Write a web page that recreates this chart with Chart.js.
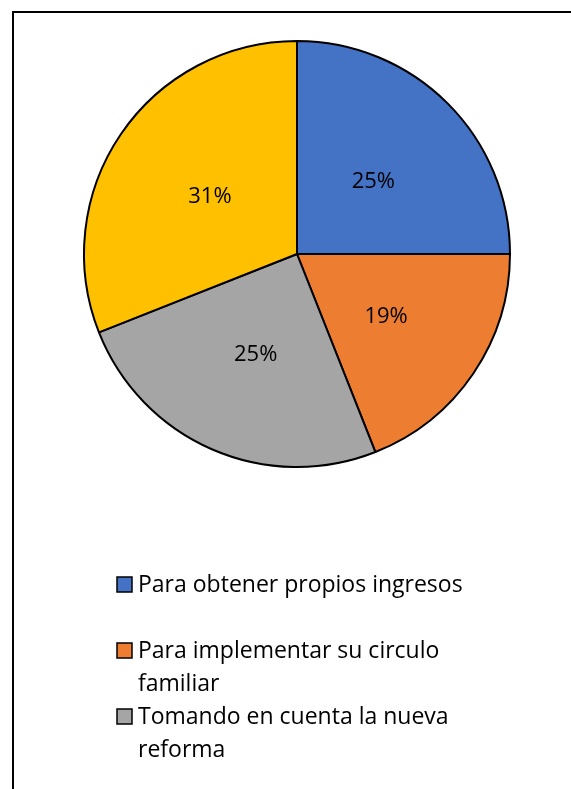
<!DOCTYPE html>
<html>
<head>
<meta charset="utf-8">
<script src="https://cdn.jsdelivr.net/npm/chart.js@4.4.1/dist/chart.umd.min.js"></script>
<style>
  html, body { margin: 0; padding: 0; background: #fff; overflow: hidden; }
  body { width: 571px; height: 789px; position: relative; }
  #frame { position: absolute; left: 12px; top: 11px; width: 700px; height: 900px; border: 2px solid #000; }
  #pie { position: absolute; left: 0; top: 0; }
</style>
</head>
<body>
<div id="frame"></div>
<canvas id="pie" width="594" height="789"></canvas>
<script>
// Chart data
const categories = [
  'Para obtener propios ingresos',
  'Para implementar su circulo familiar',
  'Tomando en cuenta la nueva reforma',
  'Otros'
];
const percentages = [25, 19, 25, 31];
const sliceColors = ['#4472C4', '#ED7D31', '#A5A5A5', '#FFC000'];
const legendShown = 3; // only three entries fit in the visible frame

const FONT = '"Open Sans", "Noto Sans", sans-serif';

// Percent labels in the middle of each slice
const sliceLabels = {
  id: 'sliceLabels',
  afterDatasetsDraw(chart) {
    const ctx = chart.ctx;
    const meta = chart.getDatasetMeta(0);
    ctx.save();
    ctx.font = '22px ' + FONT;
    ctx.fillStyle = '#000';
    ctx.textAlign = 'center';
    ctx.textBaseline = 'middle';
    meta.data.forEach((arc, i) => {
      const pos = arc.tooltipPosition();
      ctx.fillText(percentages[i] + '%', pos.x + 1, pos.y + 3);
    });
    ctx.restore();
  }
};

// Legend drawn like the spreadsheet one: left aligned, wrapped text
const wrapLegend = {
  id: 'wrapLegend',
  afterDraw(chart) {
    const ctx = chart.ctx;
    const boxX = 117, textX = 138, firstY = 585, lineH = 33, entryH = 66, maxW = 345;
    ctx.save();
    ctx.font = '23px ' + FONT;
    ctx.textBaseline = 'middle';
    for (let i = 0; i < legendShown; i++) {
      const y = firstY + i * entryH;
      ctx.fillStyle = sliceColors[i];
      ctx.fillRect(boxX, y - 8, 15, 15);
      ctx.strokeStyle = '#000';
      ctx.lineWidth = 1.5;
      ctx.strokeRect(boxX, y - 8, 15, 15);
      // word wrap
      const words = categories[i].split(' ');
      const lines = [];
      let line = '';
      words.forEach(w => {
        const test = line ? line + ' ' + w : w;
        if (ctx.measureText(test).width > maxW && line) {
          lines.push(line);
          line = w;
        } else {
          line = test;
        }
      });
      lines.push(line);
      ctx.fillStyle = '#000';
      lines.forEach((l, k) => ctx.fillText(l, textX, y + k * lineH));
    }
    ctx.restore();
  }
};

new Chart(document.getElementById('pie'), {
  type: 'pie',
  data: {
    labels: categories,
    datasets: [{
      data: percentages,
      backgroundColor: sliceColors,
      borderColor: '#000',
      borderWidth: 2
    }]
  },
  options: {
    responsive: false,
    animation: false,
    layout: {
      padding: { top: 40, bottom: 321, left: 0, right: 0 }
    },
    plugins: {
      legend: { display: false },
      tooltip: { enabled: false }
    }
  },
  plugins: [sliceLabels, wrapLegend]
});
</script>
</body>
</html>
